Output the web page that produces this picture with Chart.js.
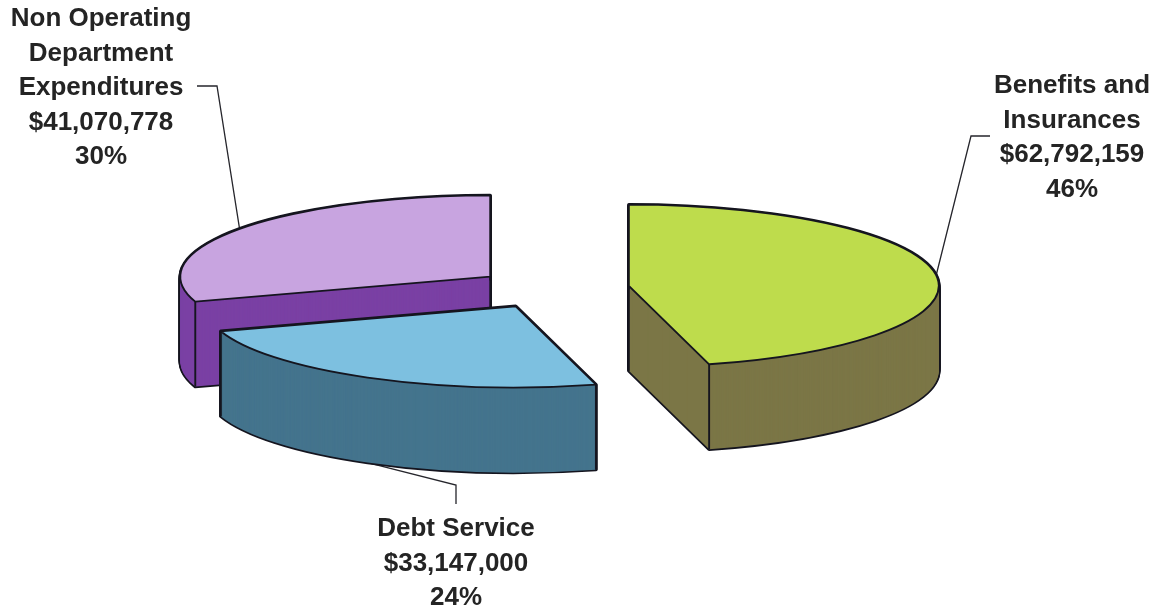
<!DOCTYPE html>
<html>
<head>
<meta charset="utf-8">
<title>Expenditures</title>
<script src="https://cdn.jsdelivr.net/npm/chart.js@4"></script>
<style>
    body { margin: 0; background: #fff; }
    canvas { display: block; }
</style>
</head>
<body>
<canvas id="pieChart" width="1158" height="608"></canvas>
<script>
// slices go clockwise, the back one first so the front one paints over it
const categories = ['Non Operating Department Expenditures', 'Benefits and Insurances', 'Debt Service'];
const amounts = [41070778, 62792159, 33147000];
const percentLabels = ['30%', '46%', '24%'];
const amountLabels = ['$41,070,778', '$62,792,159', '$33,147,000'];
const topColors = ['#c8a4e0', '#bedc4c', '#7dc0e0'];
const wallColors = ['#7a40a4', '#7b7646', '#44748d'];

const tilt = 0.262;     // vertical squash of the pie
const depth = 85;       // wall height in px
const explode = 77;     // how far each slice is pulled out
const outline = '#15151f';

// text blocks: centre x, first baseline, and where the leader line leaves the text
const labelLayout = [
    { x: 101, y: 26, lines: ['Non Operating', 'Department', 'Expenditures'], leader: [[197, 86], [217, 86]] },
    { x: 1072, y: 93, lines: ['Benefits and', 'Insurances'], leader: [[990, 136], [971, 136]] },
    { x: 456, y: 536, lines: ['Debt Service'], leader: [[456, 504], [456, 485]] }
];
const lineHeight = 34.6;

// moves the context into the flattened, pulled-out frame of one slice
function sliceFrame(ctx, arc, dy) {
    const half = (arc.startAngle + arc.endAngle) / 2;
    ctx.translate(0, arc.y + dy);
    ctx.scale(1, tilt);
    ctx.translate(0, -arc.y);
    ctx.translate(Math.cos(half) * explode, Math.sin(half) * explode);
}

function sliceCentre(arc) {
    const half = (arc.startAngle + arc.endAngle) / 2;
    return { x: arc.x + Math.cos(half) * explode, y: arc.y + Math.sin(half) * explode * tilt };
}

function rimPoint(arc, angle) {
    const c = sliceCentre(arc);
    return {
        x: c.x + Math.cos(angle) * arc.outerRadius,
        y: c.y + Math.sin(angle) * arc.outerRadius * tilt
    };
}

// stroked after the transform is dropped so the line keeps an even width
function strokeSlice(ctx, arc, dy, width) {
    ctx.save();
    sliceFrame(ctx, arc, dy);
    ctx.beginPath();
    ctx.moveTo(arc.x, arc.y);
    ctx.arc(arc.x, arc.y, arc.outerRadius, arc.startAngle, arc.endAngle);
    ctx.closePath();
    ctx.restore();
    ctx.lineWidth = width;
    ctx.strokeStyle = outline;
    ctx.lineJoin = 'round';
    ctx.stroke();
}

function fillSlice(ctx, arc, dy, color) {
    const saved = arc.options;
    arc.options = { ...saved, backgroundColor: color };
    ctx.save();
    sliceFrame(ctx, arc, dy);
    arc.draw(ctx);
    ctx.restore();
    arc.options = saved;
}

function verticalEdge(ctx, p) {
    ctx.beginPath();
    ctx.moveTo(p.x, p.y);
    ctx.lineTo(p.x, p.y + depth);
    ctx.lineWidth = 1.9;
    ctx.strokeStyle = outline;
    ctx.stroke();
}

function drawSlice(ctx, arc, i) {
    // outline of the whole block, then the wall fill leaves only its silhouette
    for (let k = depth; k >= 0; k--) strokeSlice(ctx, arc, k, 3.4);
    for (let k = depth; k >= 0; k--) fillSlice(ctx, arc, k, wallColors[i]);

    // the centre edge only shows when the slice does not cover the front of the pie
    const down = Math.PI / 2;
    const coversFront = arc.startAngle < down && arc.endAngle > down;
    if (!coversFront) verticalEdge(ctx, sliceCentre(arc));
    verticalEdge(ctx, rimPoint(arc, arc.startAngle));
    verticalEdge(ctx, rimPoint(arc, arc.endAngle));

    fillSlice(ctx, arc, 0, topColors[i]);
    strokeSlice(ctx, arc, 0, 1.9);
}

const pie3d = {
    id: 'pie3d',
    beforeDatasetsDraw(chart) {
        // leader lines run behind the slices
        const ctx = chart.ctx;
        chart.getDatasetMeta(0).data.forEach((arc, i) => {
            const half = (arc.startAngle + arc.endAngle) / 2;
            const end = rimPoint(arc, half);
            if (Math.sin(half) > 0) end.y += depth;
            const pts = labelLayout[i].leader;
            ctx.beginPath();
            ctx.moveTo(pts[0][0], pts[0][1]);
            ctx.lineTo(pts[1][0], pts[1][1]);
            ctx.lineTo(end.x, end.y);
            ctx.lineWidth = 1.3;
            ctx.strokeStyle = '#26262c';
            ctx.stroke();
        });
    },
    beforeDatasetDraw(chart, args) {
        const ctx = chart.ctx;
        args.meta.data.forEach((arc, i) => drawSlice(ctx, arc, i));
        return false;
    },
    afterDraw(chart) {
        const ctx = chart.ctx;
        ctx.save();
        ctx.font = 'bold 26px "Liberation Sans", Arial, sans-serif';
        ctx.fillStyle = '#242424';
        ctx.textAlign = 'center';
        ctx.textBaseline = 'alphabetic';
        labelLayout.forEach((label, i) => {
            const lines = [...label.lines, amountLabels[i], percentLabels[i]];
            lines.forEach((text, n) => ctx.fillText(text, label.x, label.y + n * lineHeight));
        });
        ctx.restore();
    }
};

const total = amounts.reduce((a, b) => a + b, 0);

new Chart(document.getElementById('pieChart'), {
    type: 'pie',
    data: {
        labels: categories,
        datasets: [{
            data: amounts,
            backgroundColor: topColors,
            borderWidth: 0
        }]
    },
    options: {
        responsive: false,
        animation: false,
        radius: 310,
        rotation: -360 * amounts[0] / total,
        layout: { padding: { right: 53, bottom: 31 } },
        plugins: {
            legend: { display: false },
            tooltip: { enabled: false }
        }
    },
    plugins: [pie3d]
});
</script>
</body>
</html>
